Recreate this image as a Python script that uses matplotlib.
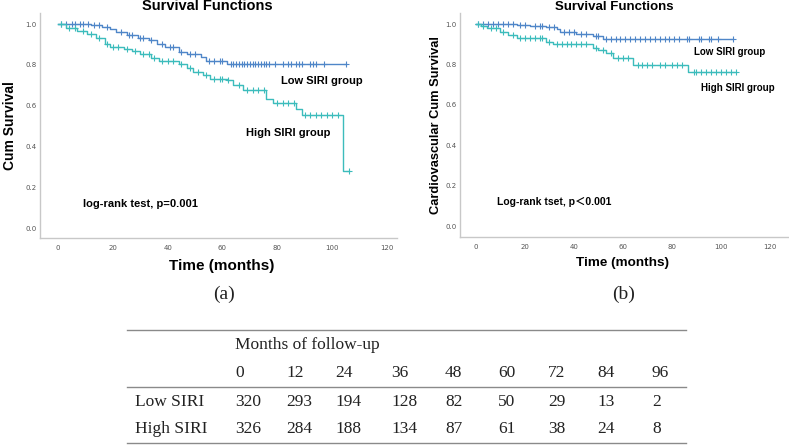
import numpy as np
import matplotlib.pyplot as plt
from matplotlib.lines import Line2D

# ---- data ----
# panel (a): all-cause survival
a_low_t = [0, 12, 16, 19, 21, 25, 29, 33, 36, 39, 44, 47, 52, 54, 61.5]
a_low_s = [1.0, 0.995, 0.988, 0.975, 0.962, 0.945, 0.93, 0.92, 0.905, 0.89, 0.865, 0.856, 0.84, 0.82, 0.804]
a_low_end = 105
a_low_cens = [1, 3, 5, 6, 8, 9, 11, 13, 15, 18, 23, 26, 27, 30, 31, 34, 38, 41, 42, 45, 48, 50, 55, 57, 59, 60,
              63, 64, 65, 66, 67, 68, 69, 70, 71, 72, 73, 74, 75, 76, 77, 79, 82, 84, 85, 87, 88, 89,
              92, 93, 94, 97, 105]

a_high_t = [0, 3, 7, 10.5, 14, 17, 19, 24, 27, 30, 34, 37, 44, 47, 49.4, 53, 55.5, 61.5, 64, 67.6, 76, 78.6, 87, 89, 104]
a_high_s = [1.0, 0.979, 0.965, 0.954, 0.93, 0.905, 0.89, 0.88, 0.87, 0.856, 0.835, 0.82, 0.807, 0.785, 0.766,
            0.75, 0.733, 0.725, 0.70, 0.676, 0.635, 0.615, 0.586, 0.557, 0.281]
a_high_end = 106
a_high_cens = [1, 4, 6, 9, 12, 15, 18, 20, 22, 25, 28, 31, 33, 35, 38, 40, 42, 45, 48, 51, 54, 57, 59, 60, 62,
               66, 69, 71, 73, 75, 80, 82, 84, 86, 90, 92, 94, 96, 98, 100, 102, 106]

# panel (b): cardiovascular survival
b_low_t = [0, 16.6, 22, 28.8, 33, 34.3, 41, 47.8, 51.9]
b_low_s = [1.0, 0.997, 0.99, 0.987, 0.975, 0.962, 0.953, 0.94, 0.924]
b_low_end = 105
b_low_cens = [1, 3, 5, 7, 9, 11, 13, 15, 18, 20, 24, 26, 27, 30, 32, 36, 38, 40, 43, 45, 49, 50, 53, 55,
              57, 59, 61, 63, 65, 67, 69, 71, 73, 75, 77, 79, 81, 83, 86, 87, 91, 92, 95, 96, 99, 105]

b_high_t = [0, 2, 4.4, 9.8, 13, 16.6, 28.8, 31.6, 47.8, 50, 53.3, 56, 64.2, 86.7]
b_high_s = [1.0, 0.99, 0.98, 0.962, 0.945, 0.929, 0.913, 0.901, 0.88, 0.87, 0.855, 0.83, 0.797, 0.763]
b_high_end = 106
b_high_cens = [1, 3, 6, 8, 11, 15, 18, 20, 22, 24, 26, 27, 30, 33, 35, 37, 39, 41, 43, 45, 49, 52, 55, 58,
               60, 62, 66, 68, 70, 72, 75, 77, 80, 82, 84, 89, 90, 92, 94, 96, 98, 100, 102, 104, 106]

# numbers at risk
months = [0, 12, 24, 36, 48, 60, 72, 84, 96]
low_risk = [320, 293, 194, 128, 82, 50, 29, 13, 2]
high_risk = [326, 284, 188, 134, 87, 61, 38, 24, 8]

c_low = "#4f86c8"
c_high = "#3cbcbc"
bold = dict(family="Liberation Sans", weight="bold")


def km(ax, t, s, end, cens, color):
    tt = list(t) + [end]
    ss = list(s) + [s[-1]]
    ax.step(tt, ss, where="post", color=color, lw=1.0)
    idx = np.searchsorted(t, cens, side="right") - 1
    ax.plot(cens, np.array(s)[idx], "+", color=color, ms=4.5, mew=0.8)


def style(ax, xlim, ylim):
    ax.set_xlim(*xlim)
    ax.set_ylim(*ylim)
    ax.set_xticks([0, 20, 40, 60, 80, 100, 120])
    ax.set_yticks([0.0, 0.2, 0.4, 0.6, 0.8, 1.0])
    ax.set_yticklabels(["0.0", "0.2", "0.4", "0.6", "0.8", "1.0"])
    ax.tick_params(length=0, labelsize=5, labelcolor="#555555")
    ax.tick_params(axis="x", pad=5)
    ax.tick_params(axis="y", pad=2.5)
    for sp in ["top", "right"]:
        ax.spines[sp].set_visible(False)
    for sp in ["left", "bottom"]:
        ax.spines[sp].set_color("#c8c8c8")
        ax.spines[sp].set_linewidth(1.0)


fig = plt.figure(figsize=(7.89, 4.46), dpi=100)

ax1 = fig.add_axes([0.0507, 0.466, 0.4525, 0.5045])
km(ax1, a_low_t, a_low_s, a_low_end, a_low_cens, c_low)
km(ax1, a_high_t, a_high_s, a_high_end, a_high_cens, c_high)
style(ax1, (-6.6, 123.7), (-0.049, 1.054))
ax1.set_title("Survival Functions", fontsize=10.5, x=0.47, pad=-1, **bold)
ax1.set_xlabel("Time (months)", fontsize=11, **bold)
ax1.xaxis.set_label_coords(0.51, -0.093)
ax1.set_ylabel("Cum Survival", fontsize=10, **bold)
ax1.yaxis.set_label_coords(-0.064, 0.5)
ax1.text(81.4, 0.72, "Low SIRI group", fontsize=8, va="center", **bold)
ax1.text(68.6, 0.466, "High SIRI group", fontsize=8, va="center", **bold)
ax1.text(9.1, 0.118, "log-rank test, p=0.001", fontsize=8, va="center", **bold)

ax2 = fig.add_axes([0.583, 0.4686, 0.417, 0.502])
km(ax2, b_low_t, b_low_s, b_low_end, b_low_cens, c_low)
km(ax2, b_high_t, b_high_s, b_high_end, b_high_cens, c_high)
style(ax2, (-6.5, 127.8), (-0.054, 1.054))
ax2.set_title("Survival Functions", fontsize=9.5, x=0.468, pad=-1, **bold)
ax2.set_xlabel("Time (months)", fontsize=9.7, **bold)
ax2.xaxis.set_label_coords(0.495, -0.089)
ax2.set_ylabel("Cardiovascular Cum Survival", fontsize=9.3, **bold)
ax2.yaxis.set_label_coords(-0.055, 0.5)
ax2.text(89, 0.861, "Low SIRI group", fontsize=7, va="center", **bold)
ax2.text(91.8, 0.683, "High SIRI group", fontsize=7, va="center", **bold)
ax2.text(8.6, 0.119, "Log-rank tset, p\uff1c0.001", fontsize=7.5, va="center",
         family=["Liberation Sans", "Noto Sans CJK SC"], weight="bold")

W, H = 789.0, 446.0
serif = dict(family="Liberation Serif", color="#222222")
fig.text(224 / W, 1 - 294 / H, "(a)", fontsize=14, ha="center", va="center", **serif)
fig.text(624 / W, 1 - 294 / H, "(b)", fontsize=14, ha="center", va="center", **serif)

# table of numbers at risk
for yl in [330, 387, 443]:
    fig.add_artist(Line2D([127 / W, 686 / W], [1 - yl / H, 1 - yl / H], color="#8a8a8a", lw=1.0))
col_x = [235, 286, 335, 391, 445, 498, 548, 597, 652]
fs = 12.5
fig.text(235 / W, 1 - 345 / H, "Months of follow-up", fontsize=fs, va="center", **serif)
fig.text(135 / W, 1 - 402 / H, "Low SIRI", fontsize=fs, va="center", **serif)
fig.text(135 / W, 1 - 429 / H, "High SIRI", fontsize=fs, va="center", **serif)
for x, m, lo, hi in zip(col_x, months, low_risk, high_risk):
    fig.text(x / W, 1 - 373 / H, str(m), fontsize=fs, va="center", **serif)
    fig.text(x / W, 1 - 402 / H, str(lo), fontsize=fs, va="center", **serif)
    fig.text(x / W, 1 - 429 / H, str(hi), fontsize=fs, va="center", **serif)

fig.savefig("out.png", dpi=100)
